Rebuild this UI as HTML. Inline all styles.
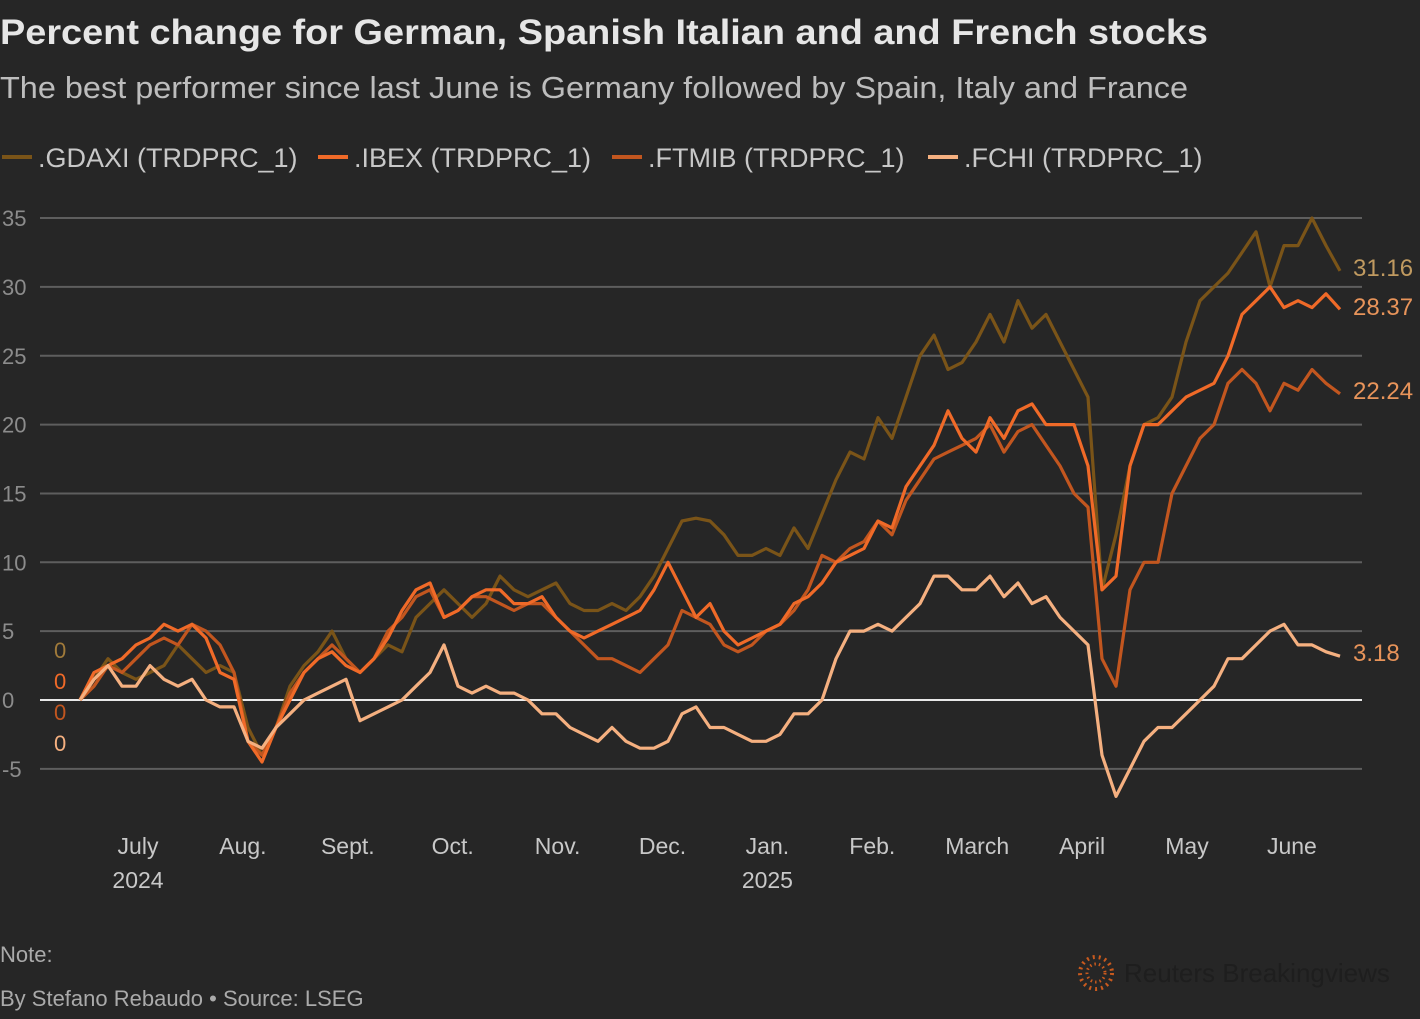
<!DOCTYPE html>
<html><head><meta charset="utf-8"><style>
body{margin:0;background:#262626;width:1420px;height:1014px;overflow:hidden;font-family:"Liberation Sans",sans-serif}
</style></head><body>
<svg width="1420" height="1014" xmlns="http://www.w3.org/2000/svg" id="svg">
<rect width="1420" height="1014" fill="#262626"/>
<text x="0" y="44" font-size="35" font-weight="bold" fill="#e6e6e6" textLength="1208" lengthAdjust="spacingAndGlyphs">Percent change for German, Spanish Italian and and French stocks</text>
<text x="0" y="98" font-size="31" fill="#bdbdbd" textLength="1188" lengthAdjust="spacingAndGlyphs">The best performer since last June is Germany followed by Spain, Italy and France</text>
<g id="legend"></g>
<g id="grid"></g>
<g id="xaxis"></g>
<g id="lines"></g>
<text x="0" y="962" font-size="22" fill="#aaa">Note:</text>
<text x="0" y="1006" font-size="22" fill="#aaa">By Stefano Rebaudo • Source: LSEG</text>
<g>
<circle cx="1096" cy="973" r="16" fill="none" stroke="#c85a1e" stroke-width="4" stroke-dasharray="2 4"/>
<circle cx="1096" cy="973" r="9" fill="none" stroke="#c85a1e" stroke-width="3" stroke-dasharray="1.5 3"/>
<text x="1124" y="982" font-size="26" fill="#1e1e1e">Reuters Breakingviews</text>
</g>
</svg>
<script>
const seriesNames=[".GDAXI (TRDPRC_1)",".IBEX (TRDPRC_1)",".FTMIB (TRDPRC_1)",".FCHI (TRDPRC_1)"];
const seriesColors=["#7a5418","#f06a28","#c2561f","#f5b080"];
const yTicks=[-5,0,5,10,15,20,25,30,35];
const monthLabels=["July","Aug.","Sept.","Oct.","Nov.","Dec.","Jan.","Feb.","March","April","May","June"];
const monthPos=[0,1,2,3,4,5,6,7,8,9,10,11];
const gdaxi=[0,1.5,3,2,1.5,2,2.5,4,3,2, 2.5,2,-2,-4,-2,1,2.5,3.5,5,3, 2,3,4,3.5,6,7,8,7,6,7, 9,8,7.5,8,8.5,7,6.5,6.5,7,6.5, 7.5,9,11,13,13.2,13,12,10.5,10.5,11, 10.5,12.5,11,13.5,16,18,17.5,20.5,19,22, 25,26.5,24,24.5,26,28,26,29,27,28, 26,24,22,8,12,17,20,20.5,22,26, 29,30,31,32.5,34,30,33,33,35,33, 31.16];
const ibex=[0,2,2.5,3,4,4.5,5.5,5,5.5,4.5, 2,1.5,-3,-4.5,-2,0,2,3,3.5,2.5, 2,3,4.5,6.5,8,8.5,6,6.5,7.5,8, 8,7,7,7.5,6,5,4.5,5,5.5,6, 6.5,8,10,8,6,7,5,4,4.5,5, 5.5,7,7.5,8.5,10,10.5,11,13,12.5,15.5, 17,18.5,21,19,18,20.5,19,21,21.5,20, 20,20,17,8,9,17,20,20,21,22, 22.5,23,25,28,29,30,28.5,29,28.5,29.5, 28.37];
const ftmib=[0,1,2.5,2,3,4,4.5,4,5.5,5, 4,2,-3,-4,-2,0.5,2,3,4,3, 2,3,5,6,7.5,8,6,6.5,7.5,7.5, 7,6.5,7,7,6,5,4,3,3,2.5, 2,3,4,6.5,6,5.5,4,3.5,4,5, 5.5,6.5,8,10.5,10,11,11.5,13,12,14.5, 16,17.5,18,18.5,19,20,18,19.5,20,18.5, 17,15,14,3,1,8,10,10,15,17, 19,20,23,24,23,21,23,22.5,24,23, 22.24];
const fchi=[0,1.5,2.5,1,1,2.5,1.5,1,1.5,0, -0.5,-0.5,-3,-3.5,-2,-1,0,0.5,1,1.5, -1.5,-1,-0.5,0,1,2,4,1,0.5,1, 0.5,0.5,0,-1,-1,-2,-2.5,-3,-2,-3, -3.5,-3.5,-3,-1,-0.5,-2,-2,-2.5,-3,-3, -2.5,-1,-1,0,3,5,5,5.5,5,6, 7,9,9,8,8,9,7.5,8.5,7,7.5, 6,5,4,-4,-7,-5,-3,-2,-2,-1, 0,1,3,3,4,5,5.5,4,4,3.5, 3.18];
const endLabels=["31.16","28.37","22.24","3.18"];
const NS="http://www.w3.org/2000/svg";
const X0=80,X1=1340,Y0=700,PX=13.77;
function y(v){return Y0-v*PX;}
function x(i,n){return X0+i*(X1-X0)/(n-1);}
function monthX(m){return 138+m*104.9;}
function mk(tag,attrs,parent){const e=document.createElementNS(NS,tag);for(const k in attrs)e.setAttribute(k,attrs[k]);parent.appendChild(e);return e;}
const grid=document.getElementById('grid');
yTicks.forEach(t=>{
  const l=mk('line',{x1:40,x2:1362,y1:y(t),y2:y(t),stroke:t===0?'#e8e8e8':'#5e5e5e','stroke-width':2},grid);
  
  
  const tx=mk('text',{x:2,y:y(t)+8,'font-size':22,fill:'#8c8c8c'},grid);
  tx.textContent=String(t);
  
  
});
const xa=document.getElementById('xaxis');
monthLabels.forEach((m,i)=>{
  const t=mk('text',{x:monthX(monthPos[i]),y:854,'font-size':23,fill:'#c8c8c8','text-anchor':'middle'},xa);
  t.textContent=m;
  
  
});
[["2024",0],["2025",6]].forEach(a=>{
  const t=mk('text',{x:monthX(a[1]),y:888,'font-size':23,fill:'#c8c8c8','text-anchor':'middle'},xa);
  t.textContent=a[0];
  
  
});
const lg=document.getElementById('legend');
const legX=[2,318,612,928];
seriesNames.forEach((n,i)=>{
  const l=mk('line',{x1:legX[i],x2:legX[i]+30,y1:157,y2:157,stroke:seriesColors[i],'stroke-width':4},lg);
  
  
  const t=mk('text',{x:legX[i]+36,y:167,'font-size':27,fill:'#c8c8c8'},lg);
  t.textContent=n;
  
  
});
const lines=document.getElementById('lines');
const all=[gdaxi,ibex,ftmib,fchi];
const startY=[650,681,712,743];
const endY=[268,307,391,653];
[0,2,1,3].forEach(i=>{
  const d=all[i];
  const pts=d.map((v,j)=>x(j,d.length).toFixed(1)+','+y(v).toFixed(1)).join(' ');
  const p=mk('polyline',{points:pts,fill:'none',stroke:seriesColors[i],'stroke-width':3.2,'stroke-linejoin':'round'},lines);
  
  
});
all.forEach((d,i)=>{
  const s=mk('text',{x:54,y:startY[i]+8,'font-size':22,fill:seriesColors[i]==='#7a5418'?'#a07a3a':seriesColors[i]},lines);
  s.textContent=String(d[0]);
  
  
  const e=mk('text',{x:1353,y:endY[i]+8,'font-size':24,fill:i===0?'#c09a60':'#e8945a'},lines);
  e.textContent=endLabels[i];
  
  
});
</script>
</body></html>
